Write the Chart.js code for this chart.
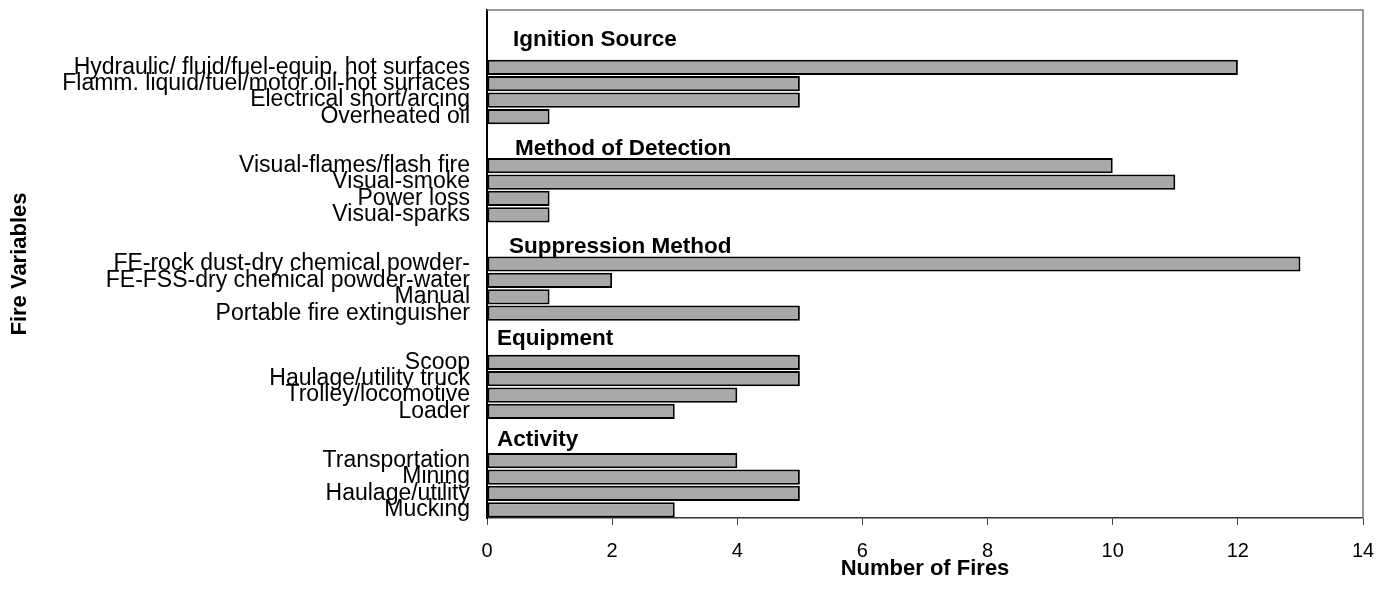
<!DOCTYPE html>
<html>
<head>
<meta charset="utf-8">
<script src="https://cdn.jsdelivr.net/npm/chart.js"></script>
<style>
  html, body { margin: 0; padding: 0; background: #ffffff; }
  #wrap { width: 1376px; height: 594px; position: relative; }
</style>
</head>
<body>
<div id="wrap"><canvas id="c" width="1376" height="594"></canvas></div>
<script>
// ---- data ----
const categories = [
  '', '', '',
  'Hydraulic/ fluid/fuel-equip. hot surfaces',
  'Flamm. liquid/fuel/motor oil-hot surfaces',
  'Electrical short/arcing',
  'Overheated oil',
  '', '',
  'Visual-flames/flash fire',
  'Visual-smoke',
  'Power loss',
  'Visual-sparks',
  '', '',
  'FE-rock dust-dry chemical powder-',
  'FE-FSS-dry chemical powder-water',
  'Manual',
  'Portable fire extinguisher',
  '', '',
  'Scoop',
  'Haulage/utility truck',
  'Trolley/locomotive',
  'Loader',
  '', '',
  'Transportation',
  'Mining',
  'Haulage/utility',
  'Mucking'
];
const fireCounts = [
  null, null, null,
  12, 5, 5, 1,
  null, null,
  10, 11, 1, 1,
  null, null,
  13, 2, 1, 5,
  null, null,
  5, 5, 4, 3,
  null, null,
  4, 5, 5, 3
];
const groupHeaders = ['Ignition Source', 'Method of Detection', 'Suppression Method', 'Equipment', 'Activity'];
const xMin = 0;
const xMax = 14;
const xStep = 2;
const xTitle = 'Number of Fires';
const yTitle = 'Fire Variables';

// ---- layout / style (not data) ----
const headerPlacement = [
  { row: 1.2,  dx: 26 },
  { row: 7.86, dx: 28 },
  { row: 13.84, dx: 22 },
  { row: 19.45, dx: 10 },
  { row: 25.6, dx: 10 }
];
const FONT = "'Liberation Sans', Arial, Helvetica, sans-serif";

const headerPlugin = {
  id: 'groupHeaders',
  afterDatasetsDraw(chart) {
    const { ctx, chartArea, scales } = chart;
    ctx.save();
    ctx.font = 'bold 22.5px ' + FONT;
    ctx.fillStyle = '#000';
    ctx.textAlign = 'left';
    ctx.textBaseline = 'alphabetic';
    groupHeaders.forEach((t, i) => {
      const p = headerPlacement[i];
      const y = scales.y.getPixelForValue(p.row) + 8;
      ctx.fillText(t, chartArea.left + p.dx, y);
    });
    ctx.restore();
  }
};

const framePlugin = {
  id: 'frame',
  beforeDatasetsDraw(chart) {
    const { ctx, chartArea: a } = chart;
    ctx.save();
    ctx.strokeStyle = '#7a7a7a';
    ctx.lineWidth = 1.5;
    ctx.beginPath();
    ctx.moveTo(a.left, a.top);
    ctx.lineTo(a.right, a.top);
    ctx.lineTo(a.right, a.bottom);
    ctx.stroke();
    ctx.restore();
  }
};

try {
new Chart(document.getElementById('c'), {
  type: 'bar',
  data: {
    labels: categories,
    datasets: [{
      data: fireCounts,
      backgroundColor: '#a8a8a8',
      borderColor: '#000000',
      borderWidth: 2,
      borderSkipped: false,
      barPercentage: 0.93,
      categoryPercentage: 1.0
    }]
  },
  options: {
    indexAxis: 'y',
    responsive: false,
    animation: false,
    devicePixelRatio: 1,
    layout: { padding: { top: 10, right: 13, left: 0, bottom: 0 } },
    plugins: {
      legend: { display: false },
      tooltip: { enabled: false }
    },
    scales: {
      x: {
        type: 'linear',
        min: xMin,
        max: xMax,
        afterFit(scale) { scale.height = 76; scale.paddingLeft = 0; scale.paddingRight = 0; },
        grid: { drawOnChartArea: false, drawTicks: true, tickLength: 7, color: '#444', lineWidth: 1 },
        border: { display: true, color: '#333', width: 1.5 },
        ticks: { stepSize: xStep, color: '#000', font: { family: FONT, size: 20 }, padding: 14 },
        title: { display: true, text: xTitle, color: '#000', font: { family: FONT, size: 22, weight: 'bold' }, padding: { top: 0, bottom: 12 } }
      },
      y: {
        type: 'category',
        afterFit(scale) { scale.width = 487; scale.paddingTop = 0; scale.paddingBottom = 0; },
        grid: { display: false, drawTicks: false },
        border: { display: true, color: '#000', width: 2 },
        ticks: { autoSkip: false, color: '#000', font: { family: FONT, size: 23 }, padding: 17 },
        title: { display: true, text: yTitle, color: '#000', font: { family: FONT, size: 22, weight: 'bold' }, padding: { top: 7, bottom: 0 } }
      }
    }
  },
  plugins: [framePlugin, headerPlugin]
});
} catch (e) { document.body.insertAdjacentHTML('beforeend', '<pre>' + e + '</pre>'); }
</script>
</body>
</html>
